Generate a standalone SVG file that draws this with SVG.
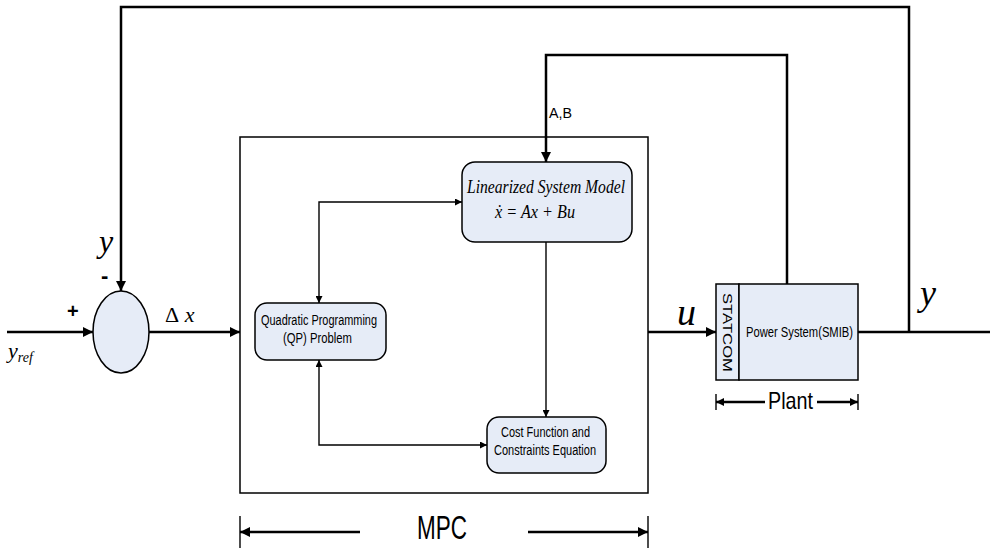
<svg xmlns="http://www.w3.org/2000/svg" width="990" height="549" viewBox="0 0 990 549">
<defs>
<marker id="ah" viewBox="0 0 10 10" refX="10" refY="5" markerWidth="10" markerHeight="8" markerUnits="userSpaceOnUse" orient="auto-start-reverse"><path d="M0,0 L10,5 L0,10 z" fill="#000"/></marker>
<marker id="ahs" viewBox="0 0 10 10" refX="10" refY="5" markerWidth="9" markerHeight="7" markerUnits="userSpaceOnUse" orient="auto-start-reverse"><path d="M0,0 L10,5 L0,10 z" fill="#000"/></marker>
<marker id="ahb" viewBox="0 0 10 10" refX="10" refY="5" markerWidth="14" markerHeight="10" markerUnits="userSpaceOnUse" orient="auto-start-reverse"><path d="M0,0 L10,5 L0,10 z" fill="#000"/></marker>
</defs>
<style>
.thick{fill:none;stroke:#000;stroke-width:2.5}
.thin{fill:none;stroke:#000;stroke-width:1.4}
.node{fill:#e6ecf7;stroke:#000;stroke-width:1.5}
.sans{font-family:"Liberation Sans",Arial,sans-serif;fill:#000}
.serif{font-family:"Liberation Serif","Times New Roman",serif;font-style:italic;fill:#000}
</style>
<rect width="990" height="549" fill="#fff"/>
<g id="mpc">
<rect x="240" y="137" width="408" height="356" fill="none" stroke="#000" stroke-width="1.5"/>
</g>
<g id="sum">
<ellipse cx="121" cy="332" rx="28" ry="41" class="node"/>
</g>
<g id="linearized">
<rect x="462" y="162" width="170" height="80" rx="13" class="node"/>
<text x="467" y="193" class="serif" font-size="18" textLength="158" lengthAdjust="spacingAndGlyphs">Linearized  System  Model</text>
<text x="495" y="218" class="serif" font-size="18" textLength="80" lengthAdjust="spacingAndGlyphs">ẋ = Ax + Bu</text>
</g>
<g id="qp">
<rect x="255" y="303" width="131" height="57" rx="12" class="node"/>
<text x="261" y="325" class="sans" font-size="14" textLength="116" lengthAdjust="spacingAndGlyphs">Quadratic Programming</text>
<text x="283" y="343" class="sans" font-size="14" textLength="69" lengthAdjust="spacingAndGlyphs">(QP) Problem</text>
</g>
<g id="cost">
<rect x="487" y="417" width="119" height="56" rx="12" class="node"/>
<text x="501" y="437" class="sans" font-size="14" textLength="89" lengthAdjust="spacingAndGlyphs">Cost Function and</text>
<text x="494" y="455" class="sans" font-size="14" textLength="102" lengthAdjust="spacingAndGlyphs">Constraints Equation</text>
</g>
<g id="plant">
<rect x="716" y="284" width="23" height="96" class="node"/>
<rect x="739" y="284" width="119" height="96" class="node"/>
<text transform="translate(723,293) rotate(90)" class="sans" font-size="13" textLength="79" lengthAdjust="spacingAndGlyphs">STATCOM</text>
<text x="746" y="337" class="sans" font-size="14" textLength="107" lengthAdjust="spacingAndGlyphs">Power System(SMIB)</text>
</g>
<g id="connectors">
<line x1="7" y1="332" x2="93" y2="332" class="thick" marker-end="url(#ahb)"/>
<line x1="149" y1="332" x2="240" y2="332" class="thick" marker-end="url(#ahb)"/>
<polyline points="909,332 909,7 121,7 121,291" class="thick" marker-end="url(#ahb)"/>
<polyline points="787,284 787,55 546,55 546,162" class="thick" marker-end="url(#ahb)"/>
<line x1="648" y1="332" x2="716" y2="332" class="thick" marker-end="url(#ahb)"/>
<line x1="858" y1="332" x2="990" y2="332" class="thick"/>
<polyline points="319,303 319,202 462,202" class="thin" marker-start="url(#ahs)" marker-end="url(#ahs)"/>
<polyline points="319,360 319,445 487,445" class="thin" marker-start="url(#ahs)" marker-end="url(#ahs)"/>
<line x1="546" y1="242" x2="546" y2="417" class="thin" marker-end="url(#ahs)"/>
</g>
<g id="labels">
<text x="67" y="318" class="sans" font-size="20" font-weight="bold">+</text>
<text x="101" y="283" class="sans" font-size="22" font-weight="bold">-</text>
<text x="99" y="252" class="serif" font-size="32">y</text>
<text x="8" y="358" class="serif" font-size="22">y<tspan font-size="14" dy="4">ref</tspan></text>
<text x="165" y="322" class="serif" font-size="22"><tspan font-style="normal">Δ</tspan> x</text>
<text x="549" y="118" class="sans" font-size="15" textLength="23" lengthAdjust="spacingAndGlyphs">A,B</text>
<text x="677" y="325" class="serif" font-size="38">u</text>
<text x="920" y="305" class="serif" font-size="36">y</text>
</g>
<g id="plant-dim">
<line x1="716" y1="394" x2="716" y2="410" class="thin"/>
<line x1="858" y1="394" x2="858" y2="410" class="thin"/>
<line x1="716" y1="402" x2="765" y2="402" class="thick" marker-start="url(#ah)"/>
<line x1="817" y1="402" x2="858" y2="402" class="thick" marker-end="url(#ah)"/>
<text x="768" y="409" class="sans" font-size="24" textLength="45" lengthAdjust="spacingAndGlyphs">Plant</text>
</g>
<g id="mpc-dim">
<line x1="240" y1="516" x2="240" y2="548" class="thin"/>
<line x1="648" y1="516" x2="648" y2="548" class="thin"/>
<line x1="240" y1="532" x2="360" y2="532" class="thick" marker-start="url(#ahb)"/>
<line x1="528" y1="532" x2="648" y2="532" class="thick" marker-end="url(#ahb)"/>
<text x="417" y="539" class="sans" font-size="33" textLength="50" lengthAdjust="spacingAndGlyphs">MPC</text>
</g>
</svg>
